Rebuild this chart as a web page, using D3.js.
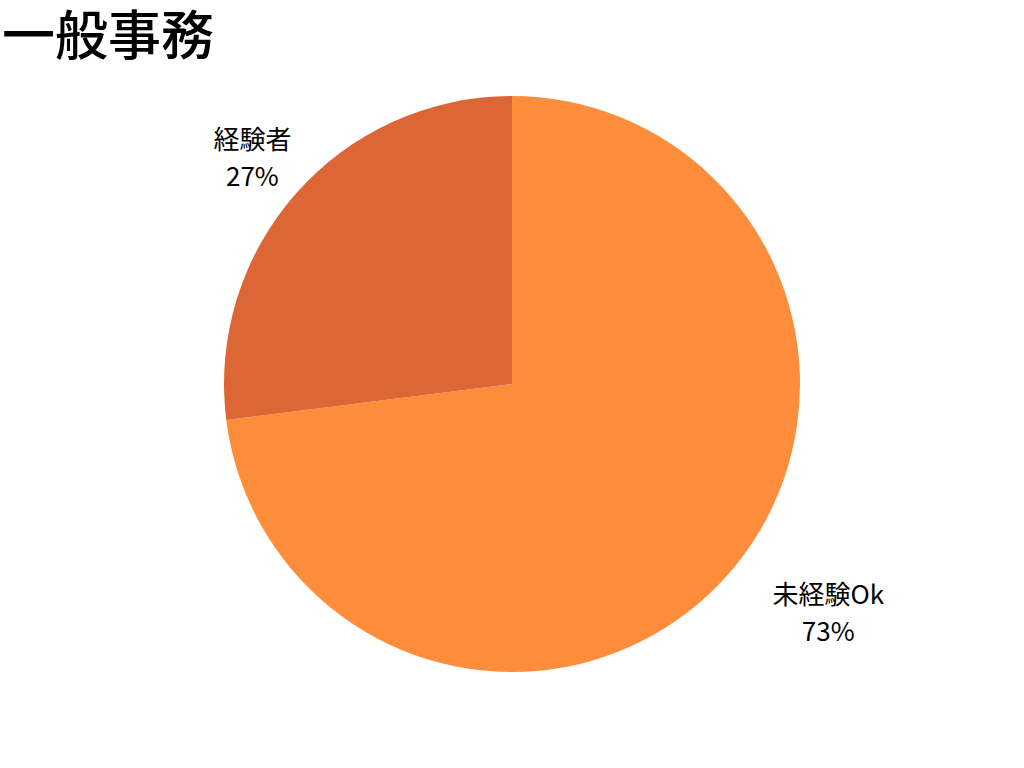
<!DOCTYPE html>
<html>
<head>
<meta charset="utf-8">
<script src="https://cdn.jsdelivr.net/npm/d3@7"></script>
<style>
  body { margin: 0; background: #fff; }
  text { font-family: "Noto Sans CJK JP", "Noto Sans", sans-serif; }
</style>
</head>
<body>
<div id="chart"></div>
<script>
// データ
const categories = ['未経験Ok', '経験者'];
const values = [73, 27];
const colors = ['#FD8C3B', '#DD6636'];
const title = '一般事務';

const width = 1024, height = 768;
const cx = 512, cy = 384, radius = 288;

const svg = d3.select('#chart').append('svg')
  .attr('width', width)
  .attr('height', height);

svg.append('text')
  .attr('x', 2)
  .attr('y', 55)
  .attr('font-size', 53)
  .attr('font-weight', 500)
  .attr('fill', '#000')
  .text(title);

const data = categories.map((c, i) => ({ name: c, value: values[i], color: colors[i] }));

const pie = d3.pie().value(d => d.value).sort(null);
const arc = d3.arc().innerRadius(0).outerRadius(radius);

const g = svg.append('g').attr('transform', `translate(${cx},${cy})`);
const arcs = pie(data);

g.selectAll('path').data(arcs).join('path')
  .attr('d', arc)
  .attr('fill', d => d.data.color);

// ラベル位置：中心角からのずれと半径の倍率（見た目合わせ）
const labelShift = [-4.4, -1.5];   // 度
const labelScale = [1.375, 1.175];

const labels = g.selectAll('.lbl').data(arcs).join('g').attr('class', 'lbl')
  .attr('transform', d => {
    const mid = (d.startAngle + d.endAngle) / 2 + labelShift[d.index] * Math.PI / 180;
    const [x, y] = d3.pointRadial(mid, radius * labelScale[d.index]);
    return `translate(${x},${y})`;
  });
labels.append('text')
  .attr('text-anchor', 'middle')
  .attr('y', -18)
  .attr('font-size', 26)
  .attr('fill', '#000')
  .text(d => d.data.name);
labels.append('text')
  .attr('text-anchor', 'middle')
  .attr('y', 19)
  .attr('font-size', 26)
  .attr('fill', '#000')
  .text(d => d.data.value + '%');
</script>
</body>
</html>
